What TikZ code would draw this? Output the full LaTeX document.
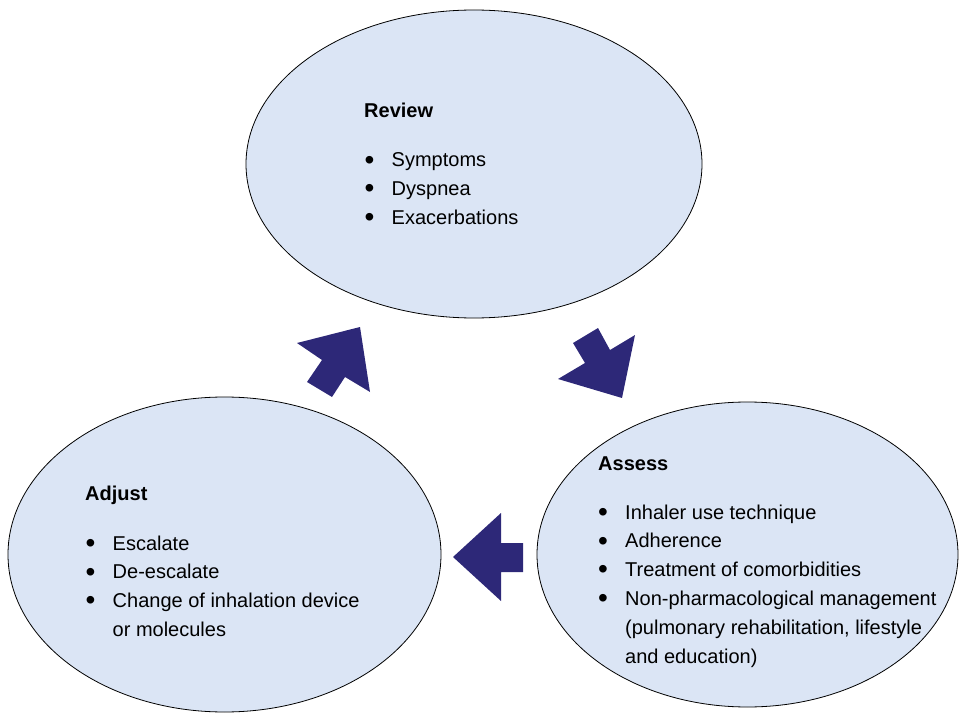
\documentclass[tikz,border=0pt]{standalone}
\usepackage{fontspec}
\setmainfont{Liberation Sans}
\usetikzlibrary{shapes.geometric}

\definecolor{cyclefill}{RGB}{219,229,245}
\definecolor{arrowblue}{RGB}{45,40,120}

\newcommand{\itembullet}{\raisebox{-2.2pt}{\scalebox{1.4}{\textbullet}}}
\newcommand{\bulletlist}[1]{%
  \begin{tabular}[t]{@{}p{27pt}@{}l@{}}#1\end{tabular}}

\begin{document}
\begin{tikzpicture}
  [x=1pt,y=-1pt,
   stage/.style={ellipse,draw=black,line width=0.8pt,fill=cyclefill,inner sep=0pt},
   heading/.style={anchor=base west,inner sep=0pt,font=\fontsize{20}{28.8}\selectfont\bfseries},
   items/.style={anchor=base west,inner sep=0pt,font=\fontsize{20}{28.8}\selectfont},
   blockarrow/.style={fill=arrowblue,draw=none}]
  \useasboundingbox (0,0) rectangle (959,714);
  % the three stages
  \node[stage,minimum width=456pt,minimum height=308pt] (review) at (474,164) {};
  \node[stage,minimum width=421pt,minimum height=305pt] (assess) at (747.5,554.5) {};
  \node[stage,minimum width=433pt,minimum height=315pt] (adjust) at (224.5,554.5) {};
  % texts
  \node[heading] (reviewhead) at (364,118) {Review};
  \node[items] (reviewlist) at (364.5,167) {\bulletlist{%
    \itembullet & Symptoms\\
    \itembullet & Dyspnea\\
    \itembullet & Exacerbations}};
  \node[heading] (assesshead) at (598,470) {Assess};
  \node[items] (assesslist) at (598,519) {\bulletlist{%
    \itembullet & Inhaler use technique\\
    \itembullet & Adherence\\
    \itembullet & Treatment of comorbidities\\
    \itembullet & Non-pharmacological management\\
    & (pulmonary rehabilitation, lifestyle\\
    & and education)}};
  \node[heading] (adjusthead) at (85,500) {Adjust};
  \node[items] (adjustlist) at (85.5,550) {\bulletlist{%
    \itembullet & Escalate\\
    \itembullet & De-escalate\\
    \itembullet & Change of inhalation device\\
    & or molecules}};
  % arrows between stages
  \fill[blockarrow] (360,327) -- (370,392) -- (345,377) -- (332,397)
    -- (307,382) -- (322,360) -- (297,343) -- cycle;
  \fill[blockarrow] (622,398) -- (635,335) -- (610,350) -- (598,328)
    -- (573,343) -- (585,363) -- (558,379) -- cycle;
  \fill[blockarrow] (453,557) -- (501,513) -- (501,543) -- (523,543)
    -- (523,572) -- (501,572) -- (501,601) -- cycle;
\end{tikzpicture}
\end{document}
